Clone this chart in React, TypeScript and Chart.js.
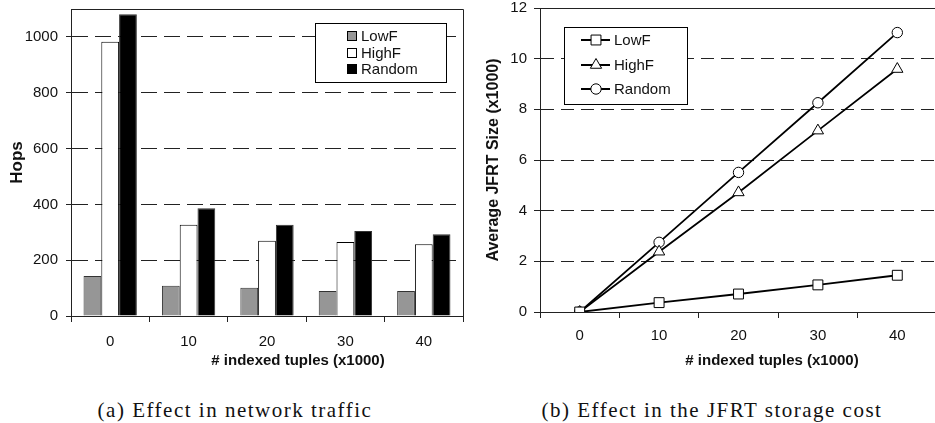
import React, { useEffect, useRef } from "react";
import { Chart, registerables } from "chart.js";
Chart.register(...registerables);

const categories = ["0", "10", "20", "30", "40"];
const hopsLowF = [143, 108, 101, 90, 90];
const hopsHighF = [983, 327, 270, 265, 257];
const hopsRandom = [1081, 386, 327, 305, 293];
const hopsTicks = [0, 200, 400, 600, 800, 1000];
const sizeLowF = [0, 0.37, 0.71, 1.07, 1.45];
const sizeHighF = [0, 2.38, 4.72, 7.16, 9.59];
const sizeRandom = [0, 2.75, 5.51, 8.26, 11.03];
const sizeTicks = [0, 2, 4, 6, 8, 10, 12];

const SANS = '"Liberation Sans", Arial, sans-serif';
const CH = 380;

function titlesPlugin(xTitle: string, xCenter: number, yTitle: string, yCenterX: number, yFontPx: number) {
  return {
    id: "axisTitles",
    afterDraw(chart: any) {
      const { ctx, chartArea } = chart;
      ctx.save();
      ctx.fillStyle = "#111";
      ctx.font = `bold 15px ${SANS}`;
      ctx.textAlign = "center";
      ctx.textBaseline = "middle";
      ctx.fillText(xTitle, xCenter, 361);
      ctx.translate(yCenterX, (chartArea.top + chartArea.bottom) / 2);
      ctx.rotate(-Math.PI / 2);
      ctx.font = `bold ${yFontPx}px ${SANS}`;
      ctx.fillText(yTitle, 0, 0);
      ctx.restore();
    },
  };
}

const framePlugin = {
  id: "frame",
  afterDraw(chart: any) {
    const { ctx, chartArea } = chart;
    ctx.save();
    ctx.strokeStyle = "#222";
    ctx.lineWidth = 1;
    ctx.beginPath();
    ctx.moveTo(chartArea.left, Math.round(chartArea.top) + 0.5);
    ctx.lineTo(Math.round(chartArea.right) + 0.5, Math.round(chartArea.top) + 0.5);
    ctx.lineTo(Math.round(chartArea.right) + 0.5, chartArea.bottom);
    ctx.stroke();
    ctx.restore();
  },
};

const barLegendPlugin = {
  id: "barLegend",
  afterDraw(chart: any) {
    const { ctx, chartArea } = chart;
    const bx = Math.round(chartArea.right - 148);
    const by = Math.round(chartArea.top + 14);
    ctx.save();
    ctx.fillStyle = "#fff";
    ctx.fillRect(bx, by, 131, 59);
    ctx.strokeStyle = "#000";
    ctx.lineWidth = 1;
    ctx.strokeRect(bx + 0.5, by + 0.5, 131, 59);
    ctx.font = `15px ${SANS}`;
    ctx.textBaseline = "middle";
    chart.data.datasets.forEach((ds: any, i: number) => {
      const cy = Math.round(by + 13 + i * 16.5);
      ctx.fillStyle = ds.backgroundColor;
      ctx.fillRect(bx + 32, cy - 5, 10, 10);
      ctx.strokeStyle = "#000";
      ctx.strokeRect(bx + 32.5, cy - 4.5, 9, 9);
      ctx.fillStyle = "#111";
      ctx.fillText(ds.label, bx + 46, cy + 1);
    });
    ctx.restore();
  },
};

function drawMarker(ctx: any, style: string, r: number, x: number, y: number) {
  ctx.beginPath();
  if (style === "rect") {
    const s = r * Math.SQRT1_2;
    ctx.rect(x - s, y - s, 2 * s, 2 * s);
  } else if (style === "triangle") {
    let a = 0;
    ctx.moveTo(x + Math.sin(a) * r, y - Math.cos(a) * r);
    a += (2 * Math.PI) / 3;
    ctx.lineTo(x + Math.sin(a) * r, y - Math.cos(a) * r);
    a += (2 * Math.PI) / 3;
    ctx.lineTo(x + Math.sin(a) * r, y - Math.cos(a) * r);
    ctx.closePath();
  } else {
    ctx.arc(x, y, r, 0, Math.PI * 2);
  }
  ctx.fillStyle = "#fff";
  ctx.fill();
  ctx.lineWidth = 1;
  ctx.strokeStyle = "#000";
  ctx.stroke();
}

const lineLegendPlugin = {
  id: "lineLegend",
  afterDraw(chart: any) {
    const { ctx, chartArea } = chart;
    const bx = Math.round(chartArea.left + 24);
    const by = Math.round(chartArea.top + 19);
    ctx.save();
    ctx.fillStyle = "#fff";
    ctx.fillRect(bx, by, 123, 77);
    ctx.strokeStyle = "#000";
    ctx.lineWidth = 1;
    ctx.strokeRect(bx + 0.5, by + 0.5, 123, 77);
    ctx.font = `15px ${SANS}`;
    ctx.textBaseline = "middle";
    chart.data.datasets.forEach((ds: any, i: number) => {
      const cy = Math.round(by + 13 + i * 24.5);
      ctx.beginPath();
      ctx.strokeStyle = "#000";
      ctx.lineWidth = 2;
      ctx.moveTo(bx + 17, cy);
      ctx.lineTo(bx + 46, cy);
      ctx.stroke();
      drawMarker(ctx, ds.pointStyle, ds.pointRadius, bx + 32, cy);
      ctx.fillStyle = "#111";
      ctx.fillText(ds.label, bx + 50, cy + 1);
    });
    ctx.restore();
  },
};

const noPadY = (w: number) => (s: any) => {
  s.width = w;
  s.paddingTop = 0;
  s.paddingBottom = 0;
};
const noPadX = (h: number) => (s: any) => {
  s.height = h;
  s.paddingLeft = 0;
  s.paddingRight = 0;
};

export default function App() {
  const refA = useRef<HTMLCanvasElement>(null);
  const refB = useRef<HTMLCanvasElement>(null);

  useEffect(() => {
    const tickFont = { family: SANS, size: 15 };
    const chartA = new Chart(refA.current as HTMLCanvasElement, {
      type: "bar",
      data: {
        labels: categories,
        datasets: [
          { label: "LowF", data: hopsLowF, backgroundColor: "#969696", borderColor: "#333", borderWidth: 1 },
          { label: "HighF", data: hopsHighF, backgroundColor: "#ffffff", borderColor: "#000", borderWidth: 1 },
          { label: "Random", data: hopsRandom, backgroundColor: "#000000", borderColor: "#333", borderWidth: 1 },
        ],
      },
      options: {
        responsive: false,
        animation: false,
        layout: { padding: { top: 9, right: 7, left: 0, bottom: 0 } },
        datasets: { bar: { barPercentage: 1, categoryPercentage: 0.68 } },
        plugins: { legend: { display: false }, tooltip: { enabled: false } },
        scales: {
          x: {
            offset: true,
            grid: { offset: true, drawOnChartArea: false, drawTicks: true, tickLength: 6, color: "#222" },
            border: { color: "#222", width: 1 },
            ticks: { font: tickFont, color: "#111", padding: 11, maxRotation: 0, autoSkip: false },
            afterFit: noPadX(CH - 316),
          },
          y: {
            min: 0,
            max: 1100,
            afterBuildTicks: (s: any) => { s.ticks = hopsTicks.map((v) => ({ value: v })); },
            grid: { color: "#222", lineWidth: 1, tickLength: 5 },
            border: { color: "#222", width: 1, dash: [16, 7] },
            ticks: { font: tickFont, color: "#111", padding: 8, callback: (v: any) => String(v) },
            afterFit: noPadY(71),
          },
        },
      } as any,
      plugins: [framePlugin, barLegendPlugin, titlesPlugin("# indexed tuples (x1000)", 298, "Hops", 17.5, 17)],
    });

    const lineDs = (label: string, data: number[], pointStyle: string, pointRadius: number) => ({
      label,
      data,
      pointStyle,
      pointRadius,
      borderColor: "#000",
      borderWidth: 1.8,
      pointBackgroundColor: "#fff",
      pointBorderColor: "#000",
      pointBorderWidth: 1,
      tension: 0,
      fill: false,
    });

    const chartB = new Chart(refB.current as HTMLCanvasElement, {
      type: "line",
      data: {
        labels: categories,
        datasets: [
          lineDs("LowF", sizeLowF, "rect", 7),
          lineDs("HighF", sizeHighF, "triangle", 6.5),
          lineDs("Random", sizeRandom, "circle", 5.2),
        ],
      },
      options: {
        responsive: false,
        animation: false,
        layout: { padding: { top: 8, right: 4, left: 0, bottom: 0 } },
        plugins: { legend: { display: false }, tooltip: { enabled: false } },
        scales: {
          x: {
            offset: true,
            grid: { offset: true, drawOnChartArea: false, drawTicks: true, tickLength: 6, color: "#222" },
            border: { color: "#222", width: 1 },
            ticks: { font: tickFont, color: "#111", padding: 9, maxRotation: 0, autoSkip: false },
            afterFit: noPadX(CH - 312),
          },
          y: {
            min: 0,
            max: 12,
            afterBuildTicks: (s: any) => { s.ticks = sizeTicks.map((v) => ({ value: v })); },
            grid: { color: "#222", lineWidth: 1, tickLength: 6 },
            border: { color: "#222", width: 1, dash: [13, 7] },
            ticks: { font: tickFont, color: "#111", padding: 7, callback: (v: any) => String(v) },
            afterFit: noPadY(70),
          },
        },
      } as any,
      plugins: [framePlugin, lineLegendPlugin, titlesPlugin("# indexed tuples (x1000)", 302, "Average JFRT Size (x1000)", 24, 16)],
    });

    return () => {
      chartA.destroy();
      chartB.destroy();
    };
  }, []);

  const captionStyle: React.CSSProperties = {
    position: "absolute",
    top: 397,
    textAlign: "center",
    fontFamily: '"Liberation Serif", "Times New Roman", serif',
    fontSize: 21,
    letterSpacing: "1.5px",
    lineHeight: "26px",
    color: "#111",
    whiteSpace: "nowrap",
  };

  return (
    <div style={{ position: "absolute", left: 0, top: 0, width: 935, height: 423, overflow: "hidden", background: "#fff" }}>
      <canvas ref={refA} width={470} height={CH} style={{ position: "absolute", left: 0, top: 0 }} />
      <canvas ref={refB} width={475} height={CH} style={{ position: "absolute", left: 470, top: 0 }} />
      <div style={{ ...captionStyle, left: 0, width: 470 }}>(a) Effect in network traffic</div>
      <div style={{ ...captionStyle, left: 470, width: 484 }}>(b) Effect in the JFRT storage cost</div>
    </div>
  );
}
